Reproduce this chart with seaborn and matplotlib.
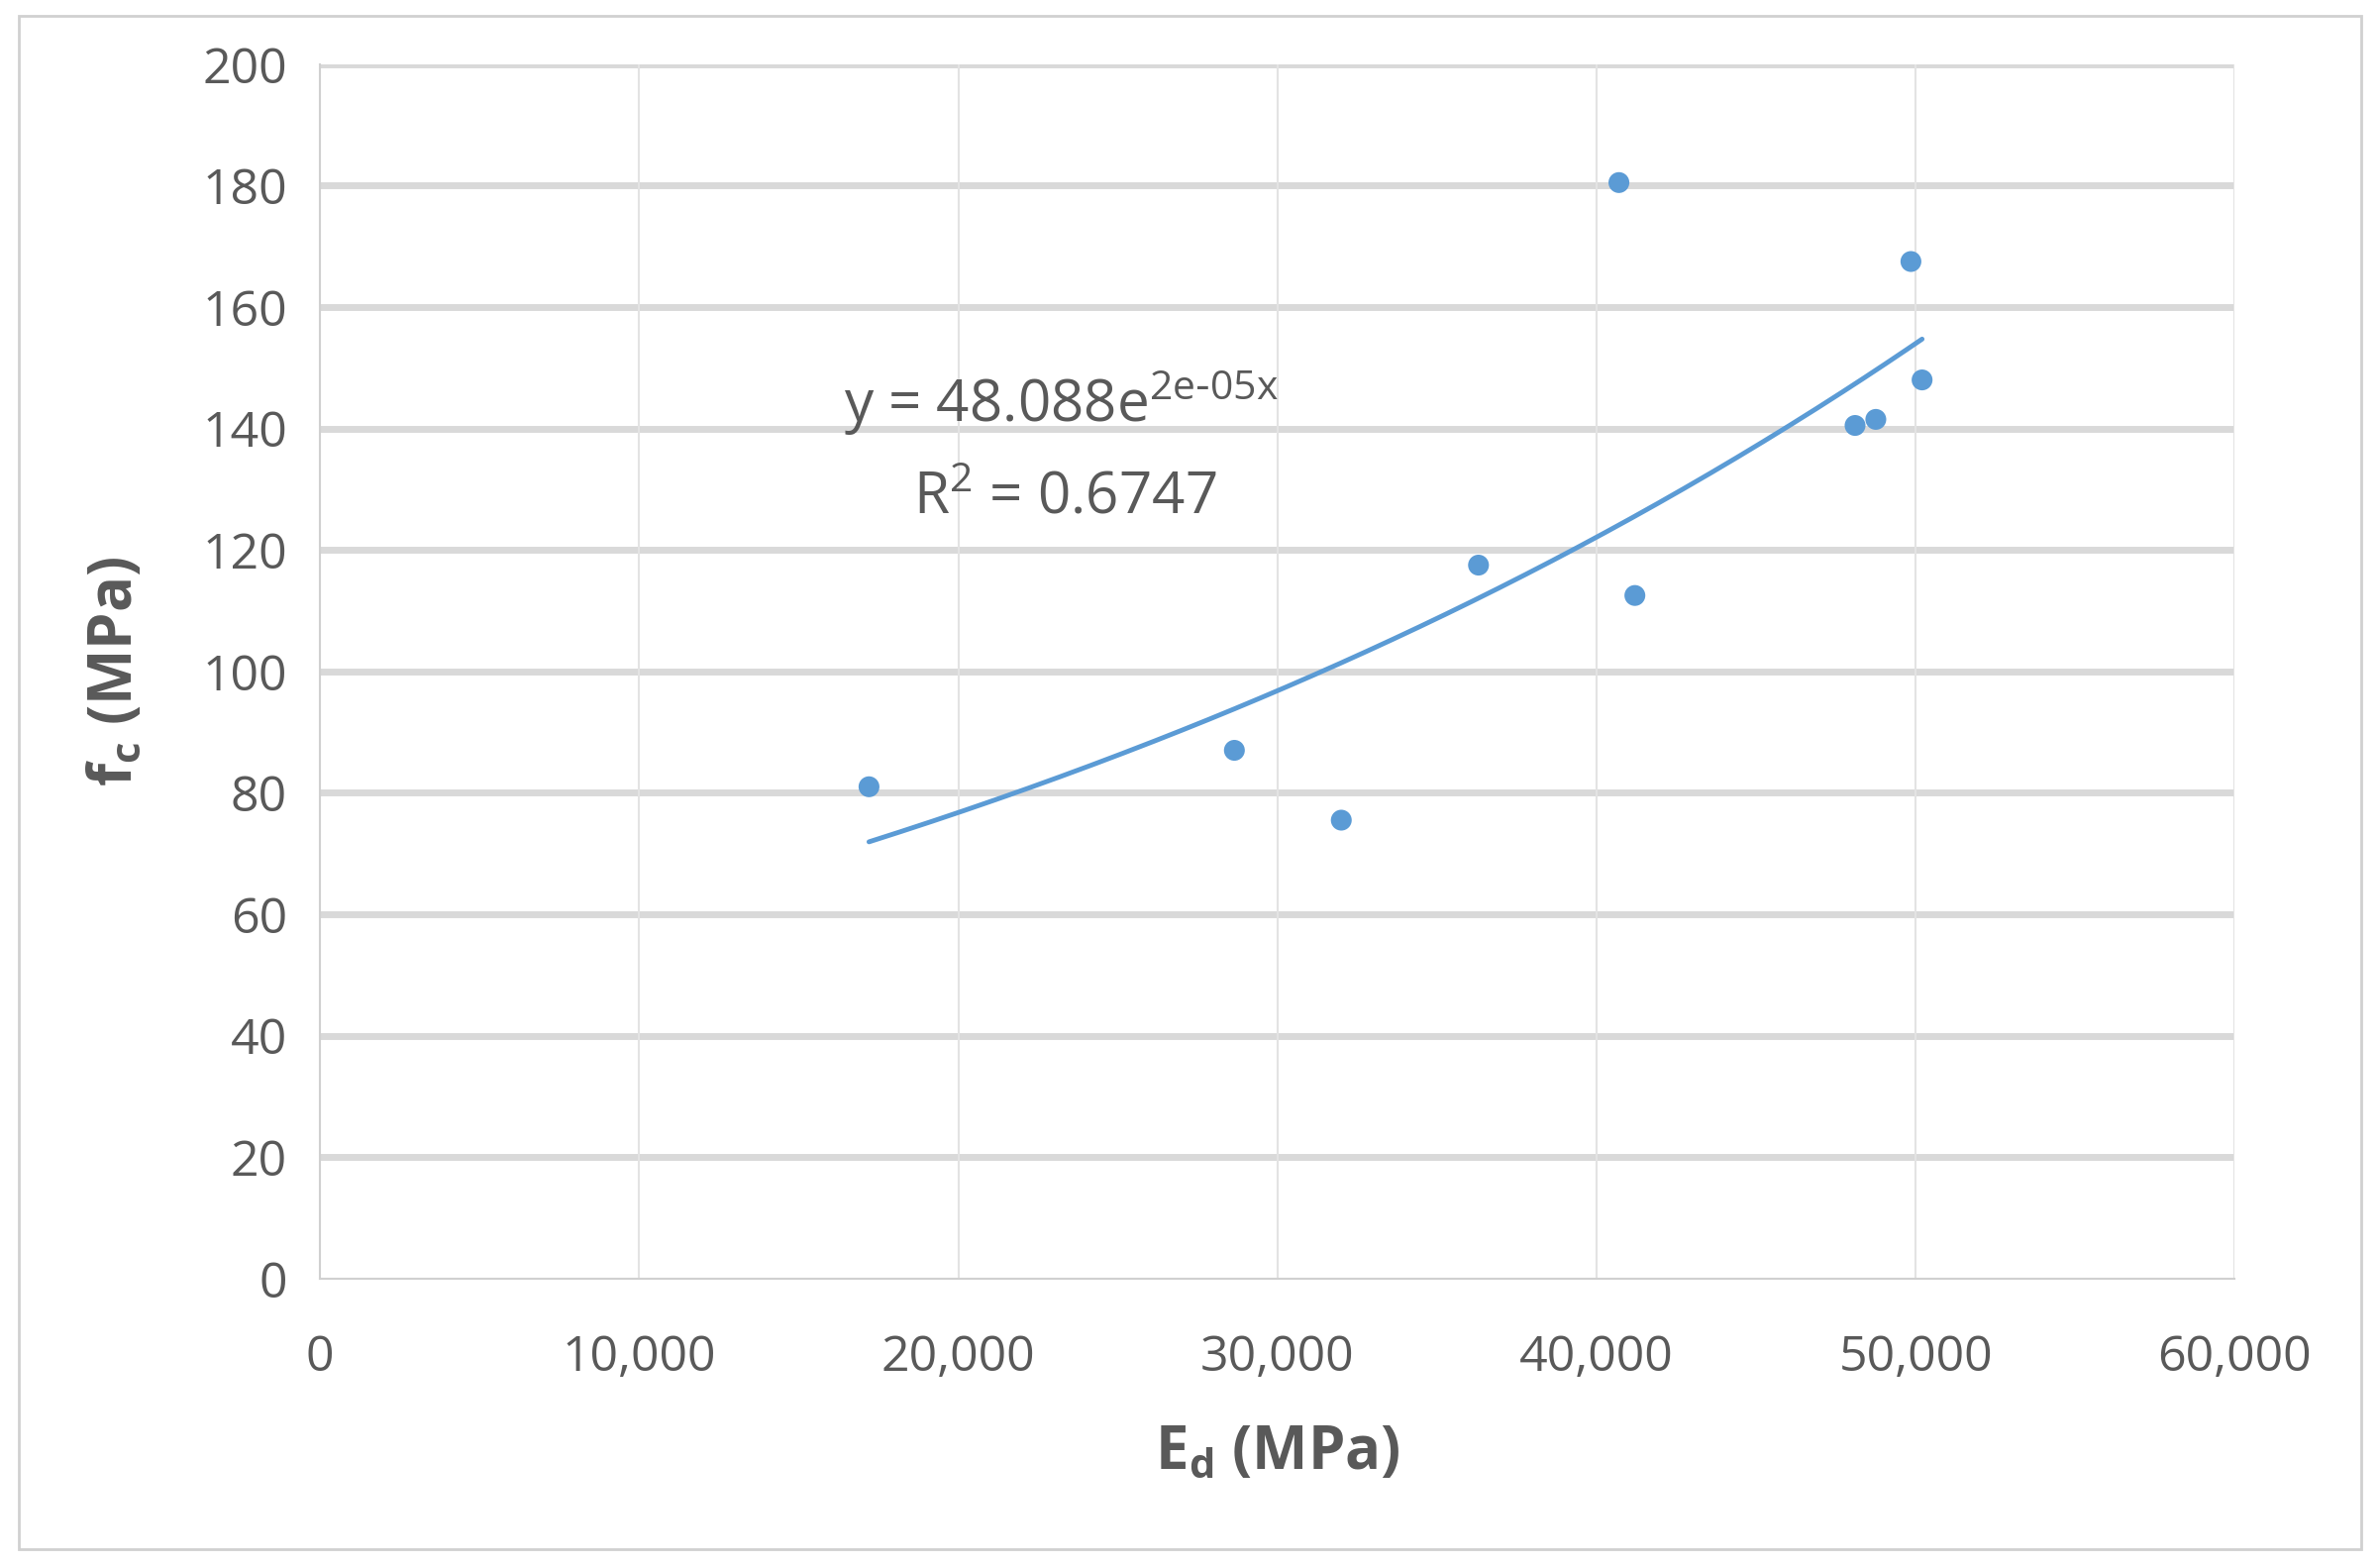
import numpy as np
import matplotlib
matplotlib.use("Agg")
import matplotlib.pyplot as plt
import seaborn as sns
from matplotlib.patches import Rectangle

sns.set_style("white")
plt.rcParams['font.family'] = ['Open Sans', 'DejaVu Sans']

ed = [17200, 28650, 32000, 36300, 40700, 41200, 48100, 48750, 49850, 50200]
fc = [81, 87, 75.5, 117.5, 180.5, 112.5, 140.5, 141.5, 167.5, 148]

txt = '#595959'
fig = plt.figure(figsize=(24.03, 15.8), dpi=100)
ax = fig.add_axes([0.1345, 0.183, 0.8045, 0.776])
fig.patches.append(Rectangle((0.008, 0.01), 0.984, 0.98, transform=fig.transFigure,
                             fill=False, edgecolor='#d0d0d0', lw=2))

# exponential fit
b, lna = np.polyfit(ed, np.log(fc), 1)
xs = np.linspace(min(ed), max(ed), 200)
ys = np.exp(lna) * np.exp(b * xs)

sns.lineplot(x=xs, y=ys, ax=ax, color='#5b9bd5', lw=3.5)
sns.scatterplot(x=ed, y=fc, ax=ax, color='#5b9bd5', s=230, edgecolor='none', zorder=3)

ax.set_xlim(0, 60000)
ax.set_ylim(0, 200)
ax.set_xticks(range(0, 60001, 10000))
ax.set_xticklabels([f"{v:,}" for v in range(0, 60001, 10000)])
ax.set_yticks(range(0, 201, 20))
for y in range(20, 201, 20):
    ax.axhline(y, color='#d9d9d9', lw=5, zorder=0)
for x in range(10000, 60001, 10000):
    ax.axvline(x, color='#e3e3e3', lw=1.5, zorder=0)
for s in ['top', 'right']:
    ax.spines[s].set_visible(False)
ax.spines['left'].set_color('#d0d0d0'); ax.spines['left'].set_linewidth(1.5)
ax.spines['bottom'].set_color('#d0d0d0'); ax.spines['bottom'].set_linewidth(1.5)
ax.tick_params(axis='both', labelsize=36, colors=txt, length=0)
ax.tick_params(axis='x', pad=40)
ax.tick_params(axis='y', pad=24)
ax.set_xlabel(r'E$_\mathregular{d}$ (MPa)', fontsize=43, fontweight='bold', color=txt, labelpad=30)
ax.set_ylabel(r'f$_\mathregular{c}$ (MPa)', fontsize=43, fontweight='bold', color=txt, labelpad=40)

ax.text(16400, 141, r'y = 48.088e$^{\mathregular{2e\text{-}05x}}$', fontsize=42, color=txt)
ax.text(18600, 126, r'R$^\mathregular{2}$ = 0.6747', fontsize=42, color=txt)

fig.savefig('out.png', dpi=100)
